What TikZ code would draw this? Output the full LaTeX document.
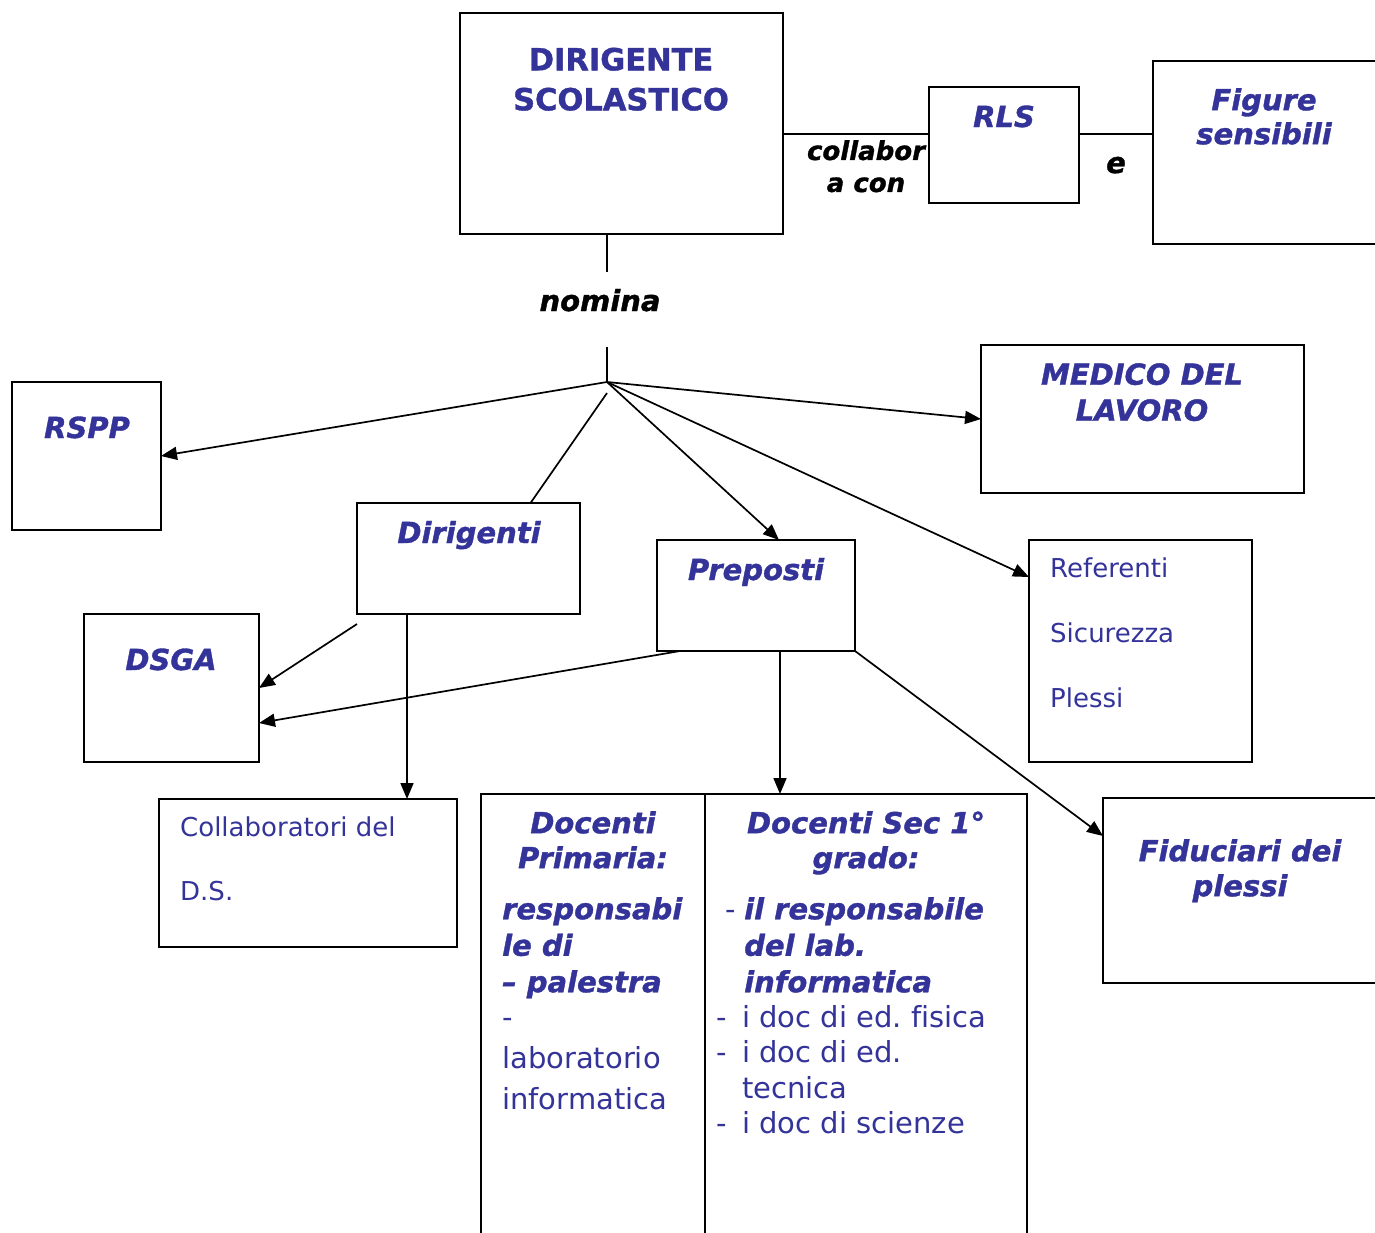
\documentclass[tikz,border=0pt]{standalone}
\usepackage{fontspec}
\setmainfont{DejaVu Sans}[Ligatures={TeX,NoCommon}, BoldFeatures={FakeBold=1.2}, BoldItalicFeatures={FakeBold=1.2}]
\usetikzlibrary{arrows.meta, positioning}
\definecolor{dsblue}{RGB}{51,51,153}

\begin{document}
\begin{tikzpicture}[x=1pt, y=-1pt,
    box/.style={draw, rectangle, line width=2pt, anchor=north west, outer sep=0pt, inner sep=0pt},
    head/.style={text=dsblue, font=\fontsize{29}{35}\selectfont\bfseries\itshape, inner sep=0pt, align=center},
    body/.style={text=dsblue, inner sep=0pt},
    lbl/.style={font=\fontsize{29}{32}\selectfont\bfseries\itshape, inner sep=0pt, align=center},
    link/.style={line width=1.7pt},
    arr/.style={link, -{Triangle[length=16pt,width=13pt]}}]

    \useasboundingbox (0,0) rectangle (1375,1232);
    \clip (0,0) rectangle (1375,1232);

    % Nodes
    \node[box, minimum width=323, minimum height=221] (ds) at (460,13) {};
    \node[box, minimum width=150, minimum height=116] (rls) at (929,87) {};
    \node[box, minimum width=260, minimum height=183] (fig) at (1153,61) {};
    \node[box, minimum width=149, minimum height=148] (rspp) at (12,382) {};
    \node[box, minimum width=323, minimum height=148] (med) at (981,345) {};
    \node[box, minimum width=223, minimum height=111] (dir) at (357,503) {};
    \node[box, minimum width=198, minimum height=111] (prep) at (657,540) {};
    \node[box, minimum width=223, minimum height=222] (ref) at (1029,540) {};
    \node[box, minimum width=175, minimum height=148] (dsga) at (84,614) {};
    \node[box, minimum width=298, minimum height=148] (coll) at (159,799) {};
    \node[box, minimum width=224, minimum height=480] (prim) at (481,794) {};
    \node[box, minimum width=322, minimum height=480] (sec) at (705,794) {};
    \node[box, minimum width=300, minimum height=185] (fid) at (1103,798) {};

    % Texts
    \node[head, font=\fontsize{30.5}{40}\selectfont\bfseries, anchor=north] (tds) at (621,47.5) {DIRIGENTE\\SCOLASTICO};
    \node[head, anchor=base] (trls) at (1004,127) {RLS};
    \node[head, font=\fontsize{29}{34}\selectfont\bfseries\itshape, anchor=north] (tfig) at (1264,88) {Figure\\sensibili};
    \node[lbl, font=\fontsize{26}{32}\selectfont\bfseries\itshape, anchor=north] (tcol) at (866,140) {collabor\\a con};
    \node[lbl, anchor=base] (te) at (1116,173) {e};
    \node[lbl, anchor=base] (tnom) at (600,311) {nomina};
    \node[head, anchor=base] (trspp) at (87,438) {RSPP};
    \node[head, font=\fontsize{29}{36}\selectfont\bfseries\itshape, anchor=north] (tmed) at (1142,363) {MEDICO DEL\\LAVORO};
    \node[head, anchor=base] (tdir) at (469,543) {Dirigenti};
    \node[head, anchor=base] (tprep) at (756,580) {Preposti};
    \node[body, font=\fontsize{26}{65}\selectfont, align=left, anchor=north west] (tref) at (1050,558) {Referenti\\Sicurezza\\Plessi};
    \node[head, anchor=base] (tdsga) at (171,670) {DSGA};
    \node[body, font=\fontsize{26}{64}\selectfont, align=left, anchor=north west] (tcoll) at (180,817) {Collaboratori del\\D.S.};
    \node[head, anchor=north] (tfid) at (1240,839) {Fiduciari dei\\plessi};

    \node[head, anchor=north] (tprim) at (593,811) {Docenti\\Primaria:};
    \node[head, font=\fontsize{29}{36.5}\selectfont\bfseries\itshape, align=left, anchor=north west] (tprimb) at (502,897) {responsabi\\le di\\– palestra};
    \node[body, font=\fontsize{29}{41}\selectfont, align=left, anchor=north west] (tprimr) at (502,1005) {\vphantom{l}-\\laboratorio\\informatica};

    \node[head, anchor=north] (tsec) at (866,811) {Docenti Sec 1°\\grado:};
    \node[body, font=\fontsize{29}{35}\selectfont, anchor=base] (tsecd) at (731,919) {-};
    \node[head, font=\fontsize{29}{36.5}\selectfont\bfseries\itshape, align=left, anchor=north west] (tsecb) at (744,897) {il responsabile\\del lab.\\informatica};
    \node[body, font=\fontsize{29}{35.5}\selectfont\frenchspacing, anchor=north west] (tsecr) at (716,1002)
        {\begin{tabular}{@{}l@{\hspace{15.5pt}}l@{}}
         - & i doc di ed. fisica\\
         - & i doc di ed.\\
           & tecnica\\
         - & i doc di scienze
         \end{tabular}};

    \coordinate (hub) at (607,382);
    \coordinate (nomtop) at (607,272);
    \coordinate (nombot) at (607,347);

    % Lines
    \draw[link] (ds.south -| hub) -- (nomtop);
    \draw[link] (nombot) -- (hub);
    \draw[link] ([yshift=-10.5pt]ds.east) -- ([yshift=-10.5pt]ds.east -| rls.west);
    \draw[link] ([yshift=11pt]rls.east) -- ([yshift=11pt]rls.east -| fig.west);
    \draw[link] ([yshift=-11pt]hub) -- ([xshift=62pt]dir.north);

    % Arrows
    \draw[arr] (hub) -- (rspp.east);
    \draw[arr] (hub) -- (med.west);
    \draw[arr] (hub) -- ([xshift=23pt]prep.north);
    \draw[arr] (hub) -- ([yshift=-37pt]ref.north west);
    \draw[arr] ([yshift=-10pt]dir.south west) -- (dsga.east);
    \draw[arr] ([xshift=23pt]prep.south west) -- ([yshift=-35pt]dsga.east);
    \draw[arr] ([xshift=50pt]dir.south west) -- ([xshift=50pt]dir.south west |- coll.north);
    \draw[arr] ([xshift=24pt]prep.south) -- ([xshift=24pt]prep.south |- sec.north);
    \draw[arr] (prep.south east) -- ([yshift=-38pt]fid.north west);

\end{tikzpicture}
\end{document}
